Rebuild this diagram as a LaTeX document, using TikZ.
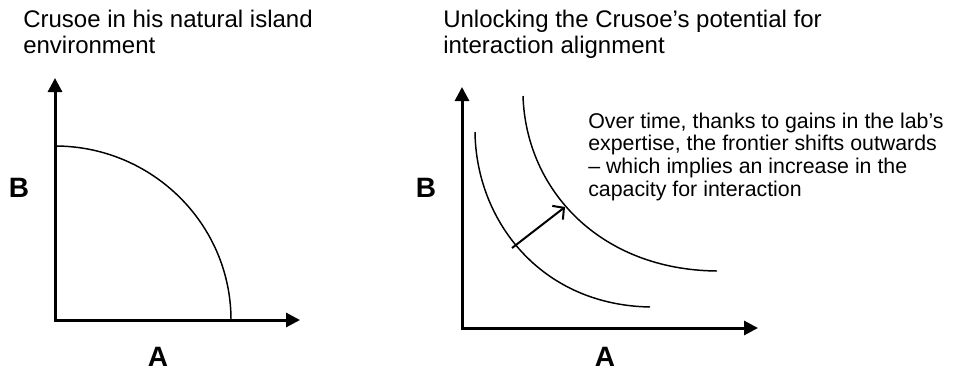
\documentclass[tikz,border=0pt]{standalone}
\usepackage{fontspec}
\setmainfont{Liberation Sans}
\usetikzlibrary{arrows.meta}

\begin{document}
\begin{tikzpicture}[x=0.75pt,y=-0.75pt,
  axis/.style={line width=2.25pt,{Triangle[length=10.5pt,width=10.5pt]}-{Triangle[length=10.5pt,width=10.5pt]}},
  curve/.style={line width=1.1pt},
  growth/.style={line width=1.5pt,-{Straight Barb[length=6pt,width=13pt]}},
  title/.style={anchor=base west,inner sep=0pt,align=left,font=\fontsize{18}{19.5}\selectfont},
  note/.style={anchor=base west,inner sep=0pt,align=left,font=\fontsize{16}{16.9}\selectfont},
  lbl/.style={anchor=base,inner sep=0pt,font=\fontsize{21}{24}\selectfont\bfseries}
]
\useasboundingbox (0,0) rectangle (955,371);

\node[title] (t1) at (23,53) {Crusoe in his natural island\\environment};
\node[title] (t2) at (443,53) {Unlocking the Crusoe’s potential for\\interaction alignment};

\coordinate (y1) at (55,78);
\coordinate (x1) at (300,320);
\coordinate (y2) at (462,87);
\coordinate (x2) at (758,328);
\draw[axis] (y1) |- (x1);
\draw[axis] (y2) |- (x2);

\node[lbl] (b1) at (19,197) {B};
\node[lbl] (a1) at (158,366) {A};
\node[lbl] (b2) at (426,197) {B};
\node[lbl] (a2) at (605,366) {A};

\draw[curve] (55,146) .. controls (152,146) and (231,224) .. (231,320);
\draw[curve] (475,132) .. controls (476,220) and (540,305) .. (650,307);
\draw[curve] (523,96) .. controls (526,190) and (600,270) .. (717,271);

\coordinate (p) at (512,248);
\coordinate (q) at (565,207);
\draw[growth] (p) -- (q);

\node[note] (n1) at (588,196) {Over time, thanks to gains in the lab’s\\expertise, the frontier shifts outwards\\– which implies an increase in the\\capacity for interaction};
\end{tikzpicture}
\end{document}
